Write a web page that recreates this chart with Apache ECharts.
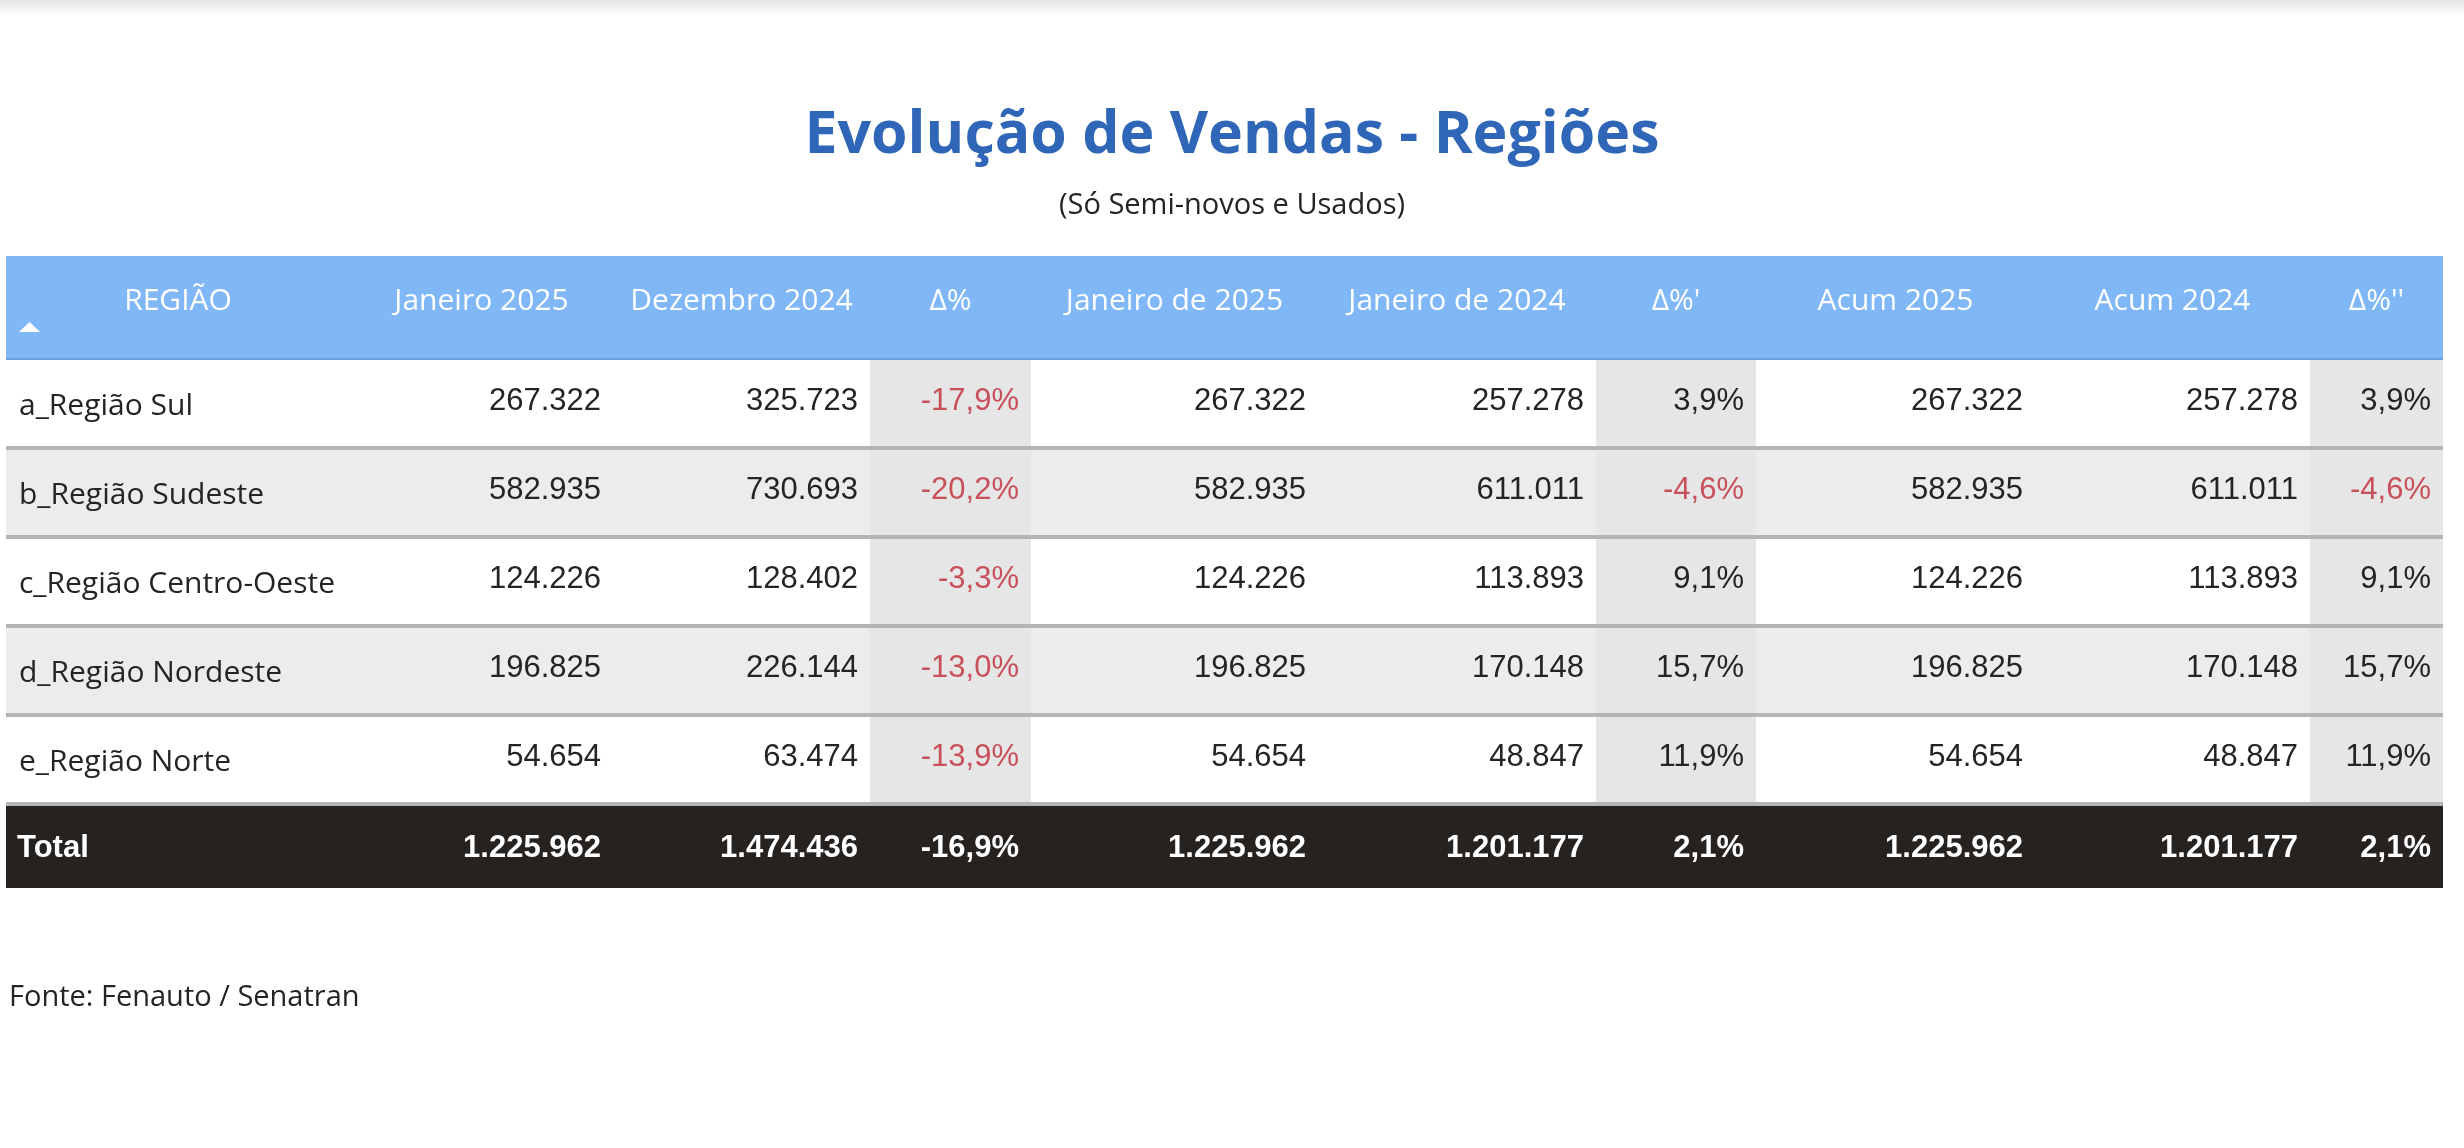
<!DOCTYPE html>
<html>
<head>
<meta charset="utf-8">
<title>Evolução de Vendas - Regiões</title>
<script src="https://cdn.jsdelivr.net/npm/echarts@6/dist/echarts.min.js"></script>
<style>
  html, body { margin: 0; padding: 0; background: #fff; }
  #tabela { width: 2464px; height: 1148px; }
</style>
</head>
<body>
<div id="tabela"></div>
<script>
// cabeçalhos e linhas
var colunas = ['REGIÃO', 'Janeiro 2025', 'Dezembro 2024', 'Δ%', 'Janeiro de 2025', 'Janeiro de 2024', "Δ%'", 'Acum 2025', 'Acum 2024', "Δ%''"];
var regioes = ['a_Região Sul', 'b_Região Sudeste', 'c_Região Centro-Oeste', 'd_Região Nordeste', 'e_Região Norte'];

var jan2025 = [267322, 582935, 124226, 196825, 54654];
var dez2024 = [325723, 730693, 128402, 226144, 63474];
var deltaMes = [-17.9, -20.2, -3.3, -13.0, -13.9];
var janDe2025 = [267322, 582935, 124226, 196825, 54654];
var janDe2024 = [257278, 611011, 113893, 170148, 48847];
var deltaAno = [3.9, -4.6, 9.1, 15.7, 11.9];
var acum2025 = [267322, 582935, 124226, 196825, 54654];
var acum2024 = [257278, 611011, 113893, 170148, 48847];
var deltaAcum = [3.9, -4.6, 9.1, 15.7, 11.9];
var totais = [1225962, 1474436, -16.9, 1225962, 1201177, 2.1, 1225962, 1201177, 2.1];

var valores = [jan2025, dez2024, deltaMes, janDe2025, janDe2024, deltaAno, acum2025, acum2024, deltaAcum];
var colDelta = [3, 6, 9];

// layout (px dentro do grid)
var bordasCol = [0, 344, 607, 864, 1025, 1312, 1590, 1750, 2029, 2304, 2437];
var bordasLin = [0, 104, 194, 283, 372, 461, 550, 632];

function fmtNum(n) {
  return String(n).replace(/\B(?=(\d{3})+(?!\d))/g, '.');
}
function fmtPct(v) {
  return v.toFixed(1).replace('.', ',') + '%';
}

var fonteTexto = '"Open Sans", "Noto Sans", sans-serif';
var fonteNum = '"Liberation Sans", Arial, sans-serif';

var celulas = [];
for (var r = 0; r < bordasLin.length - 1; r++) {
  for (var c = 0; c < colunas.length; c++) {
    celulas.push([c, r]);
  }
}

function textoCelula(c, r) {
  if (r === 0) return colunas[c];
  if (r === 6) {
    if (c === 0) return 'Total';
    var t = totais[c - 1];
    return colDelta.indexOf(c) >= 0 ? fmtPct(t) : fmtNum(t);
  }
  if (c === 0) return regioes[r - 1];
  var v = valores[c - 1][r - 1];
  return colDelta.indexOf(c) >= 0 ? fmtPct(v) : fmtNum(v);
}

function renderCelula(params, api) {
  var c = api.value(0);
  var r = api.value(1);
  var p0 = api.coord([bordasCol[c], bordasLin[r]]);
  var p1 = api.coord([bordasCol[c + 1], bordasLin[r + 1]]);
  var x = p0[0], y = p0[1], w = p1[0] - p0[0], h = p1[1] - p0[1];
  var filhos = [];
  var txt = textoCelula(c, r);
  var isDelta = colDelta.indexOf(c) >= 0;

  if (r === 0) {
    filhos.push({ type: 'rect', shape: { x: x, y: y, width: w, height: h }, style: { fill: '#80b8f7' } });
    filhos.push({ type: 'rect', shape: { x: x, y: y + h - 2, width: w, height: 2 }, style: { fill: '#6aa0e0' } });
    filhos.push({
      type: 'text',
      style: { x: x + w / 2, y: y + 45, text: txt, fill: '#ffffff', font: '30px ' + fonteTexto, textAlign: 'center', textVerticalAlign: 'middle' }
    });
    if (c === 0) {
      // seta de ordenação
      filhos.push({ type: 'polygon', shape: { points: [[x + 13, y + 76], [x + 34, y + 76], [x + 23.5, y + 66]] }, style: { fill: '#ffffff' } });
    }
    return { type: 'group', children: filhos };
  }

  if (r === 6) {
    filhos.push({ type: 'rect', shape: { x: x, y: y, width: w, height: h }, style: { fill: '#262220' } });
    filhos.push({
      type: 'text',
      style: {
        x: c === 0 ? x + 11 : x + w - 12, y: y + h / 2 + 1, text: txt, fill: '#ffffff',
        font: 'bold 31px ' + fonteNum, textAlign: c === 0 ? 'left' : 'right', textVerticalAlign: 'middle'
      }
    });
    return { type: 'group', children: filhos };
  }

  var fundo = (r % 2 === 0) ? '#ececec' : '#ffffff';
  if (isDelta) fundo = '#e6e6e6';
  filhos.push({ type: 'rect', shape: { x: x, y: y, width: w, height: h }, style: { fill: fundo } });
  filhos.push({ type: 'rect', shape: { x: x, y: y + h - 4, width: w, height: 4 }, style: { fill: '#b4b4b4' } });

  var vermelho = isDelta && txt.charAt(0) === '-';
  if (c === 0) {
    filhos.push({
      type: 'text',
      style: { x: x + 13, y: y + (h - 4) / 2 + 3, text: txt, fill: '#252423', font: '30px ' + fonteTexto, textAlign: 'left', textVerticalAlign: 'middle' }
    });
  } else {
    filhos.push({
      type: 'text',
      style: {
        x: x + w - 12, y: y + (h - 4) / 2 - 2, text: txt, fill: vermelho ? '#c9505a' : '#252423',
        font: '31px ' + fonteNum, textAlign: 'right', textVerticalAlign: 'middle'
      }
    });
  }
  return { type: 'group', children: filhos };
}

var chart = echarts.init(document.getElementById('tabela'));
var option = {
  backgroundColor: '#ffffff',
  animation: false,
  title: [
    {
      text: 'Evolução de Vendas - Regiões',
      left: 'center',
      top: 102,
      textStyle: { fontFamily: fonteTexto, fontWeight: 'bold', fontSize: 59, color: '#2f66b8' }
    },
    {
      text: '(Só Semi-novos e Usados)',
      left: 'center',
      top: 186,
      textStyle: { fontFamily: fonteTexto, fontWeight: 'normal', fontSize: 29, color: '#252423' }
    },
    {
      text: 'Fonte: Fenauto / Senatran',
      left: 4,
      top: 978,
      textStyle: { fontFamily: fonteTexto, fontWeight: 'normal', fontSize: 29, color: '#252423' }
    }
  ],
  graphic: [
    {
      type: 'rect',
      left: 0, top: 0,
      shape: { width: 2464, height: 16 },
      style: {
        fill: new echarts.graphic.LinearGradient(0, 0, 0, 1, [
          { offset: 0, color: '#e3e3e3' },
          { offset: 1, color: '#ffffff' }
        ])
      },
      silent: true
    }
  ],
  grid: { left: 6, top: 256, width: 2437, height: 632 },
  xAxis: { type: 'value', min: 0, max: bordasCol[bordasCol.length - 1], show: false },
  yAxis: { type: 'value', min: 0, max: bordasLin[bordasLin.length - 1], inverse: true, show: false },
  series: [
    {
      type: 'custom',
      renderItem: renderCelula,
      data: celulas,
      clip: false,
      silent: true
    }
  ]
};
chart.setOption(option);
</script>
</body>
</html>
